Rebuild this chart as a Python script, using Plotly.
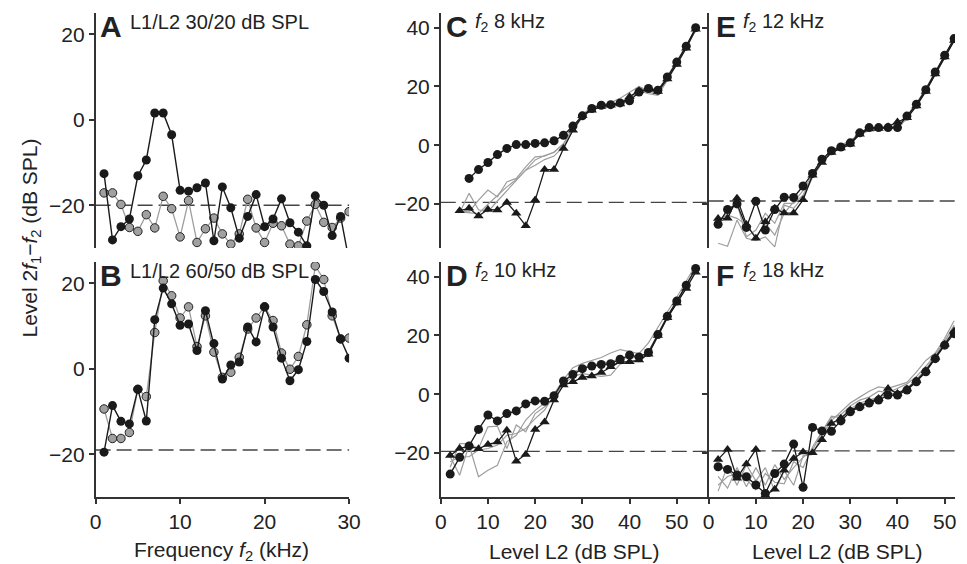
import plotly.graph_objects as go

W, H = 967, 564
FONT = "Liberation Sans, Arial, sans-serif"

# ---------------- data ----------------
freq_kHz = list(range(1, 31))
A_black = [-12.6, -28.1, -25, -23.2, -13.1, -9.4, 1.6, 1.6, -3.5, -16.5, -16.7, -15.9, -14.8, -28.3, -15.7,
           -20.6, -27.7, -22.6, -17.5, -25, -23.2, -18.5, -24.1, -26.3, -29.5, -17.8, -20, -27.1, -22.6, -33]
A_gray = [-17.1, -17.1, -19.8, -25.2, -26.1, -22.2, -25.3, -17.9, -20.8, -27.4, -18.9, -28.7, -25.5, -23, -26.7,
          -29.1, -26.7, -18.6, -25.3, -28.7, -24.2, -24.8, -29.1, -29.5, -23.7, -19.8, -24, -25.2, -23, -21.5]
B_black = [-19.5, -8.6, -12.3, -12.9, -4.8, -12.2, 11.5, 18.9, 15.2, 10.2, 10.5, 4.3, 13.6, 5.9, -2.4,
           0.9, 1.6, 9.8, 6.3, 14.5, 9.8, 2.5, -2.8, -0.2, 6.4, 20.9, 18.1, 13.3, 7.0, 2.5]
B_gray = [-9.4, -16.3, -16.3, -14.9, -4.8, -6.5, 8.5, 20.6, 17.1, 11.9, 14.5, 5.2, 12.4, 3.9, -2.0,
          -0.8, 2.7, 9.3, 11.9, 14.5, 11.3, 3.7, -0.1, 2.9, 10.3, 24.1, 20.9, 12.4, 7.0, 7.2]

L2_C = list(range(4, 56, 2))
C_circles = [None, -11.3, -8.3, -5.9, -3.2, -1.1, 0.2, 0.2, 0.6, 0.8, 1.5, 3.4, 6.5, 10, 12.5, 13.6, 13.8,
             14.4, 15.1, 18.1, 19.3, 18.7, 23.2, 28.3, 33.7, 40]
C_triangles = [-22.3, -21.5, -24.1, -21.9, -22.1, -19.5, -23.2, -27.4, -18.7, -8.3, -8.3, -1.1, 5.1, 10, 11.9,
               13.2, 13.6, 14, 16.5, 18.5, 19, 18.3, 22.5, 27.5, 33, 39.5]
C_gray1 = [-23, -16.4, -22, -22.7, -19, -15.5, -12, -8.5, -5, -3.5, -2.5, 0.5, 6, 10.5, 13, 13.5, 14.5, 16,
           18, 20, 18.5, 18, 23.5, 28.5, 34, 39.5]
C_gray2 = [-22.5, -22.7, -18.7, -15.3, -17.6, -12.5, -11.3, -7.4, -4, -3.7, -2.3, 0.4, 5.5, 10, 12.5, 13, 14,
           14.5, 16.5, 19, 18, 17.5, 22.5, 28, 33.5, 39.5]
C_gray3 = [-22.7, -23, -23.3, -20.1, -17, -14.2, -11.7, -8.5, -6.8, -4.9, -3.7, -0.5, 5, 9.5, 12, 13, 13.5, 14,
           16, 18.5, 17.5, 17, 22, 27.5, 33, 39]

L2_D = list(range(2, 56, 2))
D_circles = [-27.2, -21.5, -17.6, -12, -7.1, -9.1, -6.6, -5.7, -3.3, -2.3, -2.4, -0.5, 4.5, 6.7, 8.7, 9.6, 10.1,
             10.4, 11.9, 13.3, 12.7, 14.2, 20.3, 26.5, 31.7, 37.1, 42.8]
D_triangles = [-20.9, -18.5, -17.6, -18.6, -17.1, -16.3, -12.3, -22.8, -20.5, -12, -9.5, -2, 3.1, 4.2, 5.7, 6.2,
               7.4, 9.3, 11, 11, 11.6, 13.6, 20, 26, 31, 36, 41.5]
D_gray1 = [-21.3, -27.6, -17.3, -28.1, -25.9, -24.2, -16.2, -14, -8.8, -5.5, -3, 0, 5, 9, 10.5, 11.5, 12.5, 14,
           15.2, 14.5, 13.8, 17.5, 23, 28, 33, 38.5, 44]
D_gray2 = [-24.9, -16.8, -16.8, -18.5, -11.1, -10.9, -18.5, -10.5, -12.8, -6.6, -4.3, -1, 4, 7.5, 9, 10, 10.5,
           11, 12, 12.5, 12.5, 14.5, 20.5, 26.5, 31.5, 37, 42.5]
D_gray3 = [-23, -21.3, -21.3, -19, -18.5, -17.3, -14, -13.4, -11.7, -8.3, -5.4, -0.3, 3.5, 6, 7, 6.5, 6.1, 6.5,
           10.2, 11.5, 11.1, 14, 20, 26, 31, 36.5, 42]

L2_E = list(range(2, 54, 2))
E_circles = [-26.9, -21.9, -20, -28, -19.1, -28.9, -21.9, -17.7, -17.8, -13.9, -9.6, -4.8, -1.9, -0.6, 0.8, 4.2,
             6, 6, 6, 6, 9.9, 13.9, 18.9, 24.9, 30.6, 36.3]
E_triangles = [-25, -24.9, -18.1, -27, -31.7, -26.1, -21.5, -23.1, -23.1, -18.6, -10.2, -5.9, -2.5, -1, 0.3, 3.7,
               5.5, 5.7, 6.3, 7.9, 9.3, 13.3, 18.3, 24.2, 30, 35.6]
E_gray1 = [-33.4, -34.4, -25.5, -31.7, -32.5, -31.2, -34.6, -20.4, -21.5, -17.6, -11, -6, -2.5, -0.5, 1, 3.5, 5,
           5.5, 6, 6, 9, 13.5, 18.5, 24, 30, 35.5]
E_gray2 = [-26, -23.2, -19.8, -31.2, -28.9, -23.2, -26.6, -19.8, -19.8, -17, -10.5, -5.5, -2, 0, 1.5, 4, 5.5, 6,
           6, 6.5, 9.5, 14, 19, 24.5, 30.5, 36]
E_gray3 = [-25.5, -23.8, -24.9, -27.2, -31.2, -26.6, -30.6, -23.2, -19.3, -15.5, -10, -5, -2, -0.3, 1.2, 3.8, 5.8,
           6, 6.2, 6.5, 10, 14.2, 19.3, 25, 30.5, 36.2]

L2_F = list(range(2, 54, 2))
F_circles = [-24.7, -25.6, -27.5, -28.1, -30.9, -33.8, -27, -23.8, -17, -31.7, -11.3, -12.5, -12.6, -9.1, -6,
             -4.3, -3, -2, -0.3, -0.3, 1.4, 4.2, 7.6, 12.1, 16.7, 20.6]
F_triangles = [-22.2, -18.8, -28.6, -23.8, -18.8, -34.4, -32.4, -25.9, -21.9, -19.7, -19.9, -15.5, -10, -8.2,
               -5.5, -4, -2.5, -1.5, 1.9, 0.2, 1.8, 4.6, 8, 12.5, 17, 21.5]
F_gray1 = [-33, -24.5, -31, -24, -29.5, -25, -33, -26, -31, -21, -20.5, -14, -9, -6, -3, -1, 1, 2.5, 2, 3, 4,
           7.5, 11.5, 14, 19, 25]
F_gray2 = [-28, -32, -25, -31.5, -25, -31, -24, -29, -25, -21.5, -19, -13, -8, -7, -4, -2, -1, 1, 0.5, 2, 3.5,
           6, 9.5, 13.5, 18, 23.5]
F_gray3 = [-31, -28, -27, -29, -32.5, -27, -30, -30.5, -23, -25, -18, -12.5, -7.5, -8, -5, -3, -2, -1, 0, 0.5,
           2, 5, 8.5, 13, 17.5, 22]

noise_floor = {"A": -20, "B": -19, "C": -19.5, "D": -19.5, "E": -19, "F": -19.3}

panel_letters = ["A", "B", "C", "D", "E", "F"]
panel_titles = ["L1/L2 30/20 dB SPL", "L1/L2 60/50 dB SPL",
                "<i>f</i><sub>2</sub> 8 kHz", "<i>f</i><sub>2</sub> 10 kHz",
                "<i>f</i><sub>2</sub> 12 kHz", "<i>f</i><sub>2</sub> 18 kHz"]
xtitle_freq = "Frequency <i>f</i><sub>2</sub> (kHz)"
xtitle_level = "Level L2 (dB SPL)"
ytitle = "Level 2<i>f</i><sub>1</sub>\u2212<i>f</i><sub>2</sub> (dB SPL)"

# ---------------- styling ----------------
BLACK = "#1a1a1a"
GRAY = "#9e9e9e"
AX = "#333333"


def px_x(p):
    return p / W


def px_y(p):
    return 1 - p / H


fig = go.Figure()


def add(x, y, ax, **kw):
    fig.add_trace(go.Scatter(x=x, y=y, xaxis="x" + ax, yaxis="y" + ax, showlegend=False,
                             hoverinfo="skip", **kw))


# A and B
for ax, blk, gry in (("", A_black, A_gray), ("2", B_black, B_gray)):
    add(freq_kHz, gry, ax, mode="lines+markers", line=dict(color=GRAY, width=1.3),
        marker=dict(symbol="circle", size=8.5, color="#a0a0a0", line=dict(color="#222", width=1)))
    add(freq_kHz, blk, ax, mode="lines+markers", line=dict(color=BLACK, width=1.4),
        marker=dict(symbol="circle", size=9, color=BLACK))

# C-F
for ax, L, circ, tri, grays in (
        ("3", L2_C, C_circles, C_triangles, (C_gray1, C_gray2, C_gray3)),
        ("4", L2_D, D_circles, D_triangles, (D_gray1, D_gray2, D_gray3)),
        ("5", L2_E, E_circles, E_triangles, (E_gray1, E_gray2, E_gray3)),
        ("6", L2_F, F_circles, F_triangles, (F_gray1, F_gray2, F_gray3))):
    for g in grays:
        add(L, g, ax, mode="lines", line=dict(color=GRAY, width=1.2))
    add(L, tri, ax, mode="lines+markers", line=dict(color=BLACK, width=1.3),
        marker=dict(symbol="triangle-up", size=9, color=BLACK))
    add(L, circ, ax, mode="lines+markers", line=dict(color=BLACK, width=1.3),
        marker=dict(symbol="circle", size=9, color=BLACK), connectgaps=False)

# ---------------- axes ----------------
tickfont = dict(family=FONT, size=21, color="#222")
base = dict(showgrid=False, zeroline=False, linecolor=AX, linewidth=1.5, ticks="outside", ticklen=5,
            tickwidth=1.5, tickcolor=AX, tickfont=tickfont)

xA = [px_x(91.3), px_x(349.6)]
xC = [px_x(443), px_x(714)]
xE = [px_x(716), 1.0]
yTop = [px_y(248), px_y(13)]
yBot = [px_y(497), px_y(262)]
rangeC = [0, (714 - 443) / 4.81]
rangeE = [0, (967 - 716) / 4.81]

layout_axes = {}
specs = [("", xA, yTop, [0, 30], [-30, 25], False, True),
         ("2", xA, yBot, [0, 30], [-30, 25], True, True),
         ("3", xC, yTop, rangeC, [-35, 45], False, True),
         ("4", xC, yBot, rangeC, [-35, 45], True, True),
         ("5", xE, yTop, rangeE, [-35, 45], False, False),
         ("6", xE, yBot, rangeE, [-35, 45], True, False)]
for ax, xd, yd, xr, yr, showx, ylabels in specs:
    xa = dict(base, domain=xd, range=xr, anchor="y" + ax, dtick=10, tick0=0)
    if not showx:
        xa.update(showline=False, ticks="", showticklabels=False)
    else:
        xa.update(showline=True)
    ya = dict(base, domain=yd, range=yr, anchor="x" + ax, dtick=20, tick0=0, showline=True,
              showticklabels=ylabels)
    layout_axes["xaxis" + ax] = xa
    layout_axes["yaxis" + ax] = ya

fig.update_layout(**layout_axes)

# noise floor dashed lines
shapes = []
for letter, ax in zip(panel_letters, ["", "2", "3", "4", "5", "6"]):
    shapes.append(dict(type="line", xref="x" + ax + " domain", x0=0, x1=1, yref="y" + ax,
                       y0=noise_floor[letter], y1=noise_floor[letter],
                       line=dict(color="#444", width=1.3, dash="15px,6px"), layer="below"))

# annotations
ann = []
letter_pos = [(94, 27), (94, 276), (446, 27), (446, 276), (721, 27), (721, 276)]
title_pos = [(124, 22), (124, 271), (476, 22), (476, 271), (749, 22), (749, 271)]
for letter, (lx, ly), t, (tx, ty) in zip(panel_letters, letter_pos, panel_titles, title_pos):
    ann.append(dict(text="<b>%s</b>" % letter, x=px_x(lx), y=px_y(ly), xref="paper", yref="paper",
                    xanchor="left", yanchor="middle", showarrow=False,
                    font=dict(family=FONT, size=30, color="#222")))
    ann.append(dict(text=t, x=px_x(tx), y=px_y(ty), xref="paper", yref="paper",
                    xanchor="left", yanchor="middle", showarrow=False,
                    font=dict(family=FONT, size=20, color="#222")))

titlefont = dict(family=FONT, size=21, color="#222")
ann.append(dict(text=xtitle_freq, x=px_x(220), y=px_y(551), xref="paper", yref="paper",
                xanchor="center", yanchor="middle", showarrow=False, font=titlefont))
ann.append(dict(text=xtitle_level, x=px_x(579), y=px_y(551), xref="paper", yref="paper",
                xanchor="center", yanchor="middle", showarrow=False, font=titlefont))
ann.append(dict(text=xtitle_level, x=px_x(847), y=px_y(551), xref="paper", yref="paper",
                xanchor="center", yanchor="middle", showarrow=False, font=titlefont))
ann.append(dict(text=ytitle, x=px_x(25), y=px_y(238), xref="paper", yref="paper",
                xanchor="center", yanchor="middle", showarrow=False, textangle=-90, font=titlefont))

fig.update_layout(width=W, height=H, margin=dict(l=0, r=0, t=0, b=0), autosize=False,
                  paper_bgcolor="white", plot_bgcolor="white", showlegend=False,
                  shapes=shapes, annotations=ann, font=dict(family=FONT, color="#222"))

fig.write_html("out.html")
